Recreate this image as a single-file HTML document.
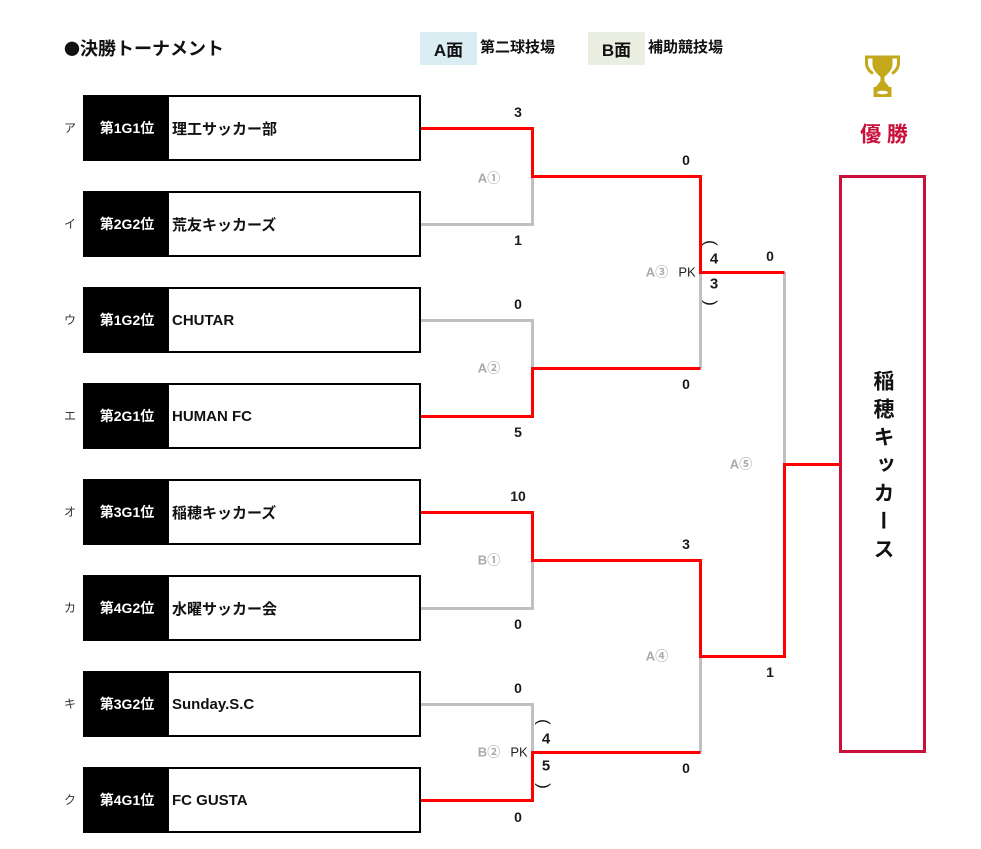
<!DOCTYPE html>
<html><head><meta charset="utf-8">
<style>
*{margin:0;padding:0;box-sizing:border-box}
html,body{width:981px;height:849px;background:#fff;overflow:hidden}
body{position:relative;font-family:"Liberation Sans","Noto Sans CJK JP",sans-serif;color:#111}
.t{position:absolute;transform:translate(-50%,-50%);white-space:nowrap;line-height:1}
.sc{font-weight:bold;font-size:14px;color:#1a1a1a}
.lb{font-weight:bold;font-size:13px;color:#aaa}
.pk{font-size:13px;color:#222}
.par{font-size:17px;color:#111}
.kana{font-size:12px;color:#333}
.box{position:absolute;left:83px;width:338px;height:66px;border:2px solid #000;background:#fff;display:flex;align-items:center}
.box .rk{width:84px;height:100%;background:#000;color:#fff;font-weight:bold;font-size:14px;display:flex;align-items:center;justify-content:center;white-space:nowrap}
.box .nm{padding-left:3px;font-weight:bold;font-size:15px;color:#111;white-space:nowrap}
</style></head><body>

<!-- header -->
<div style="position:absolute;left:64px;top:38px;font-size:18px;font-weight:bold;line-height:20px;white-space:nowrap"><span style="font-family:'Noto Sans CJK JP',sans-serif;font-size:16px">●</span>決勝トーナメント</div>
<div style="position:absolute;left:420px;top:32px;width:57px;height:33px;background:#daedf3;display:flex;align-items:center;justify-content:center;font-weight:bold;font-size:17px">A面</div>
<div style="position:absolute;left:480px;top:39px;font-weight:bold;font-size:15px;line-height:18px;white-space:nowrap">第二球技場</div>
<div style="position:absolute;left:588px;top:32px;width:57px;height:33px;background:#ebefe1;display:flex;align-items:center;justify-content:center;font-weight:bold;font-size:17px">B面</div>
<div style="position:absolute;left:648px;top:39px;font-weight:bold;font-size:15px;line-height:18px;white-space:nowrap">補助競技場</div>

<!-- trophy -->
<svg style="position:absolute;left:864px;top:55px" width="38" height="44" viewBox="0 0 38 44">
  <g fill="#c4a81c" stroke="none">
    <rect x="1" y="0.5" width="35" height="3"/>
    <path d="M8.5 1 H28.5 V9 C28.5 16 22 20 19.5 23 H17.5 C15 20 8.5 16 8.5 9 Z"/>
    <rect x="16.5" y="22" width="4" height="6"/>
    <path d="M16.5 26 L11 33 H26 L20.5 26 Z"/>
    <rect x="9.5" y="32" width="18" height="10"/>
  </g>
  <path d="M2.5 2 V8 C2.5 13 5 16 9 18.5" stroke="#c4a81c" stroke-width="3" fill="none"/>
  <path d="M34.5 2 V8 C34.5 13 32 16 28 18.5" stroke="#c4a81c" stroke-width="3" fill="none"/>
  <ellipse cx="18.5" cy="37.5" rx="5.5" ry="1.8" fill="#fff"/>
</svg>
<div class="t" style="left:884px;top:135px;font-size:21px;font-weight:bold;color:#c8103a">優 勝</div>

<!-- lines -->
<svg style="position:absolute;left:0;top:0" width="981" height="849">
  <g fill="none" stroke="#c0c0c0" stroke-width="3" stroke-linejoin="miter">
    <path d="M421 224.5 H532.5 V176.5"/>
    <path d="M421 320.5 H532.5 V368.5"/>
    <path d="M700.5 368.5 V272.5"/>
    <path d="M421 608.5 H532.5 V560.5"/>
    <path d="M421 704.5 H532.5 V752.5"/>
    <path d="M700.5 752.5 V656.5"/>
    <path d="M784.5 272.5 V464.5"/>
  </g>
  <g fill="none" stroke="#ff0000" stroke-width="3" stroke-linejoin="miter">
    <path d="M421 128.5 H532.5 V176.5 H700.5 V272.5 H784.5"/>
    <path d="M421 416.5 H532.5 V368.5 H700.5"/>
    <path d="M421 512.5 H532.5 V560.5 H700.5 V656.5 H784.5 V464.5 H840"/>
    <path d="M421 800.5 H532.5 V752.5 H700.5"/>
  </g>
</svg>

<!-- team boxes -->
<div class="t kana" style="left:70px;top:128px">ア</div>
<div class="box" style="top:95px"><div class="rk">第1G1位</div><div class="nm">理工サッカー部</div></div>
<div class="t kana" style="left:70px;top:224px">イ</div>
<div class="box" style="top:191px"><div class="rk">第2G2位</div><div class="nm">荒友キッカーズ</div></div>
<div class="t kana" style="left:70px;top:320px">ウ</div>
<div class="box" style="top:287px"><div class="rk">第1G2位</div><div class="nm">CHUTAR</div></div>
<div class="t kana" style="left:70px;top:416px">エ</div>
<div class="box" style="top:383px"><div class="rk">第2G1位</div><div class="nm">HUMAN FC</div></div>
<div class="t kana" style="left:70px;top:512px">オ</div>
<div class="box" style="top:479px"><div class="rk">第3G1位</div><div class="nm">稲穂キッカーズ</div></div>
<div class="t kana" style="left:70px;top:608px">カ</div>
<div class="box" style="top:575px"><div class="rk">第4G2位</div><div class="nm">水曜サッカー会</div></div>
<div class="t kana" style="left:70px;top:704px">キ</div>
<div class="box" style="top:671px"><div class="rk">第3G2位</div><div class="nm">Sunday.S.C</div></div>
<div class="t kana" style="left:70px;top:800px">ク</div>
<div class="box" style="top:767px"><div class="rk">第4G1位</div><div class="nm">FC GUSTA</div></div>

<!-- round 1 scores -->
<div class="t sc" style="left:518px;top:112px">3</div>
<div class="t sc" style="left:518px;top:240px">1</div>
<div class="t sc" style="left:518px;top:304px">0</div>
<div class="t sc" style="left:518px;top:432px">5</div>
<div class="t sc" style="left:518px;top:496px">10</div>
<div class="t sc" style="left:518px;top:624px">0</div>
<div class="t sc" style="left:518px;top:688px">0</div>
<div class="t sc" style="left:518px;top:817px">0</div>

<!-- round 2 scores -->
<div class="t sc" style="left:686px;top:160px">0</div>
<div class="t sc" style="left:686px;top:384px">0</div>
<div class="t sc" style="left:686px;top:544px">3</div>
<div class="t sc" style="left:686px;top:768px">0</div>

<!-- round 3 scores -->
<div class="t sc" style="left:770px;top:256px">0</div>
<div class="t sc" style="left:770px;top:672px">1</div>

<!-- match labels -->
<div class="t lb" style="left:489px;top:178px">A①</div>
<div class="t lb" style="left:489px;top:368px">A②</div>
<div class="t lb" style="left:489px;top:560px">B①</div>
<div class="t lb" style="left:489px;top:752px">B②</div>
<div class="t lb" style="left:657px;top:272px">A③</div>
<div class="t lb" style="left:657px;top:656px">A④</div>
<div class="t lb" style="left:741px;top:464px">A⑤</div>

<!-- PK A3 -->
<div class="t pk" style="left:687px;top:272px">PK</div>
<div class="t par" style="left:711px;top:243px;transform:translate(-50%,-50%) rotate(90deg)">(</div>
<div class="t sc" style="left:714px;top:259px;font-size:15px">4</div>
<div class="t sc" style="left:714px;top:284px;font-size:15px">3</div>
<div class="t par" style="left:711px;top:303px;transform:translate(-50%,-50%) rotate(90deg)">)</div>

<!-- PK B2 -->
<div class="t pk" style="left:519px;top:752px">PK</div>
<div class="t par" style="left:544px;top:722px;transform:translate(-50%,-50%) rotate(90deg)">(</div>
<div class="t sc" style="left:546px;top:739px;font-size:15px">4</div>
<div class="t sc" style="left:546px;top:766px;font-size:15px">5</div>
<div class="t par" style="left:544px;top:786px;transform:translate(-50%,-50%) rotate(90deg)">)</div>

<!-- champion -->
<div style="position:absolute;left:839px;top:175px;width:87px;height:578px;border:3px solid #c8103a"></div>
<div style="position:absolute;left:870px;top:370px;width:24px;writing-mode:vertical-rl;font-size:21px;font-weight:bold;letter-spacing:7px;line-height:24px;color:#111">稲穂キッカース</div>

</body></html>
